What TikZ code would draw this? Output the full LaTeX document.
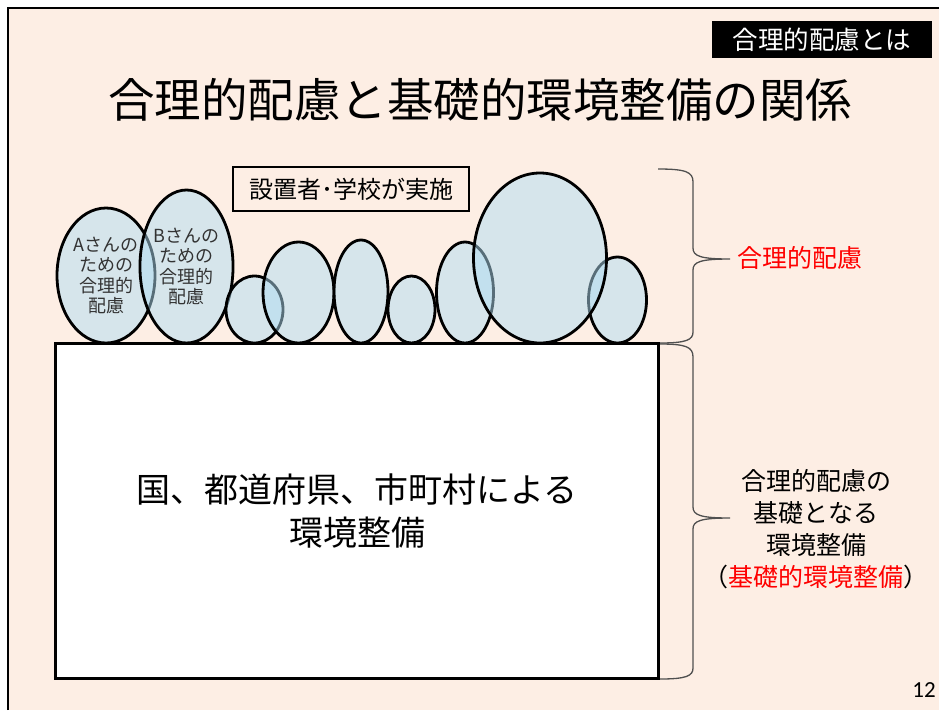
\documentclass[tikz,border=0pt]{standalone}
\usepackage{fontspec}
\setmainfont{Noto Sans CJK JP}
\newfontfamily\numfont{Carlito}
\usetikzlibrary{shapes.geometric}
\definecolor{bgpeach}{HTML}{FDEEE4}
\definecolor{ellblue}{HTML}{B0DDF2}
\definecolor{bracegray}{HTML}{505050}
\definecolor{redtxt}{HTML}{FF0000}
\tikzset{
  blob/.style={ellipse, draw=black, line width=2.8pt, fill=ellblue, fill opacity=0.5,
    text opacity=1, inner sep=0pt, align=center,
    font=\fontsize{18}{20.5}\selectfont, text=black!80},
  bracepath/.style={draw=bracegray, line width=1.3pt},
}
\begin{document}
\begin{tikzpicture}[x=1pt,y=-1pt]
\useasboundingbox (0,0) rectangle (939,710);
\fill[white] (0,0) rectangle (939,710);
\fill[bgpeach] (8,8) rectangle (939,710);
\draw[line width=2pt] (8,710) -- (8,8) -- (939,8);

% tag
\node[fill=black, text=white, minimum width=220pt, minimum height=37pt, inner sep=0pt,
  font=\fontsize{25.5}{30}\selectfont] (tag) at (822,39.5) {合理的配慮とは};

% title
\node[font=\fontsize{46.5}{50}\selectfont, inner sep=0pt] (title) at (480,100) {合理的配慮と基礎的環境整備の関係};

% implementer box
\node[draw=black, line width=2pt, fill=bgpeach, minimum width=236pt, minimum height=44pt, inner sep=0pt,
  font=\fontsize{24}{28}\selectfont] (impl) at (351,189) {設置者･学校が実施};

% ellipses
\node[blob, minimum width=98pt, minimum height=135pt] (eA) at (106,275.5) {Aさんの\\ための\\合理的\\配慮};
\node[blob, minimum width=91pt, minimum height=153pt] (eB) at (186.5,266.5) {Bさんの\\ための\\合理的\\配慮};
\node[blob, minimum width=57pt, minimum height=67pt] (e3) at (254.5,309.5) {};
\node[blob, minimum width=71pt, minimum height=101pt] (e4) at (298.5,292.5) {};
\node[blob, minimum width=54pt, minimum height=103pt] (e5) at (361,291.5) {};
\node[blob, minimum width=47pt, minimum height=67pt] (e6) at (411.5,309.5) {};
\node[blob, minimum width=57pt, minimum height=101pt] (e7) at (465,292.5) {};
\node[blob, minimum width=58pt, minimum height=86pt] (e9) at (617.5,300) {};
\node[blob, minimum width=133pt, minimum height=170pt] (e8) at (540,258) {};

% base box
\node[draw=black, line width=2.4pt, fill=white, minimum width=603pt, minimum height=335pt, inner sep=0pt,
  align=center, font=\fontsize{34}{43}\selectfont] (base) at (357,511) {国、都道府県、市町村による\\環境整備};

% braces
\coordinate (b1s) at (658,169);
\coordinate (b1t) at (730,259);
\coordinate (b1e) at (660,343);
\coordinate (b2s) at (660,344);
\coordinate (b2t) at (730,518);
\coordinate (b2e) at (660,679);
\draw[bracepath] (b1s) .. controls (686,169) and (693,172) .. (693,182) -- (693,248)
  .. controls (693,256) and (700,259) .. (b1t)
  .. controls (700,259) and (693,262) .. (693,270) -- (693,332)
  .. controls (693,340) and (686,343) .. (b1e);
\draw[bracepath] (b2s) .. controls (686,344) and (693,347) .. (693,357) -- (693,507)
  .. controls (693,515) and (700,518) .. (b2t)
  .. controls (700,518) and (693,521) .. (693,529) -- (693,668)
  .. controls (693,676) and (686,679) .. (b2e);

% labels
\node[text=redtxt, font=\fontsize{25}{30}\selectfont, anchor=west, inner sep=0pt] (lab1) at (737,258) {合理的配慮};
\node[align=center, font=\fontsize{25}{32}\selectfont, inner sep=0pt] (lab2) at (816,529)
  {合理的配慮の\\基礎となる\\環境整備\\（\textcolor{redtxt}{基礎的環境整備}）};

\node[font=\numfont\fontsize{23}{26}\selectfont, inner sep=0pt] (pg) at (924,690) {12};
\end{tikzpicture}
\end{document}
